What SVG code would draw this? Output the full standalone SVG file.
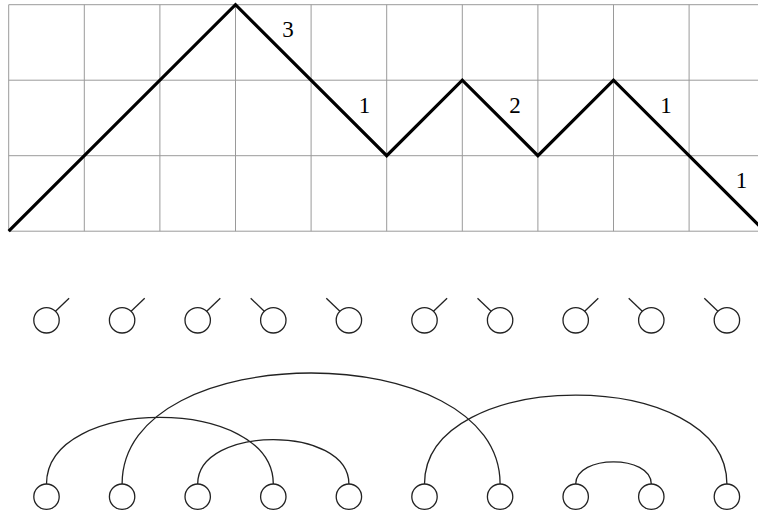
<svg xmlns="http://www.w3.org/2000/svg" width="758" height="515" viewBox="0 0 758 515">
<style>
.grid{stroke:#9a9a9a;stroke-width:1;fill:none}
.path{stroke:#000;stroke-width:3.2;fill:none;stroke-linejoin:miter}
.lbl{font-family:"Liberation Serif","DejaVu Serif",serif;font-size:23px;fill:#000;text-anchor:middle}
.c{fill:#fff;stroke:#222;stroke-width:1.3}
.s{stroke:#222;stroke-width:1.3;fill:none}
.arc{stroke:#222;stroke-width:1.3;fill:none}
</style>
<defs>
<g id="cir"><circle class="c" cx="0" cy="0" r="12.7"/></g>
<g id="stickR"><circle class="c" cx="0" cy="0" r="12.7"/><line class="s" x1="9" y1="-9" x2="22.6" y2="-22"/></g>
<g id="stickL"><circle class="c" cx="0" cy="0" r="12.7"/><line class="s" x1="-9" y1="-9" x2="-22.6" y2="-22"/></g>
</defs>
<g id="grid">
<path class="grid" d="M8.7,4.7H770M8.7,80.2H770M8.7,155.7H770M8.7,231.2H770M8.7,4.7V231.2M84.3,4.7V231.2M159.9,4.7V231.2M235.5,4.7V231.2M311.1,4.7V231.2M386.7,4.7V231.2M462.3,4.7V231.2M537.9,4.7V231.2M613.5,4.7V231.2M689.1,4.7V231.2M764.7,4.7V231.2"/>
</g>
<g id="dyck">
<path class="path" d="M8.7,231.2L235.5,4.7L386.7,155.7L462.3,80.2L537.9,155.7L613.5,80.2L764.7,231.2"/>
</g>
<g id="labels">
<text class="lbl" x="288" y="36.5">3</text>
<text class="lbl" x="364.5" y="112.5">1</text>
<text class="lbl" x="515" y="112.5">2</text>
<text class="lbl" x="666" y="112.5">1</text>
<text class="lbl" x="741.5" y="187.5">1</text>
</g>
<g id="sticks">
<use id="s1" href="#stickR" x="46.5" y="320.3"/>
<use id="s2" href="#stickR" x="122.1" y="320.3"/>
<use id="s3" href="#stickR" x="197.7" y="320.3"/>
<use id="s4" href="#stickL" x="273.3" y="320.3"/>
<use id="s5" href="#stickL" x="348.9" y="320.3"/>
<use id="s6" href="#stickR" x="424.5" y="320.3"/>
<use id="s7" href="#stickL" x="500.1" y="320.3"/>
<use id="s8" href="#stickR" x="575.7" y="320.3"/>
<use id="s9" href="#stickL" x="651.3" y="320.3"/>
<use id="s10" href="#stickL" x="726.9" y="320.3"/>
</g>
<g id="connectors">
<path class="arc" d="M46.5,484C46.5,395.2 273.3,395.2 273.3,484"/>
<path class="arc" d="M122.1,484C122.1,336 500.1,336 500.1,484"/>
<path class="arc" d="M197.7,484C197.7,424.8 348.9,424.8 348.9,484"/>
<path class="arc" d="M424.5,484C424.5,365.6 726.9,365.6 726.9,484"/>
<path class="arc" d="M575.7,484C575.7,454.4 651.3,454.4 651.3,484"/>
</g>
<g id="nodes">
<use id="n1" href="#cir" x="46.5" y="496.7"/>
<use id="n2" href="#cir" x="122.1" y="496.7"/>
<use id="n3" href="#cir" x="197.7" y="496.7"/>
<use id="n4" href="#cir" x="273.3" y="496.7"/>
<use id="n5" href="#cir" x="348.9" y="496.7"/>
<use id="n6" href="#cir" x="424.5" y="496.7"/>
<use id="n7" href="#cir" x="500.1" y="496.7"/>
<use id="n8" href="#cir" x="575.7" y="496.7"/>
<use id="n9" href="#cir" x="651.3" y="496.7"/>
<use id="n10" href="#cir" x="726.9" y="496.7"/>
</g>
</svg>
